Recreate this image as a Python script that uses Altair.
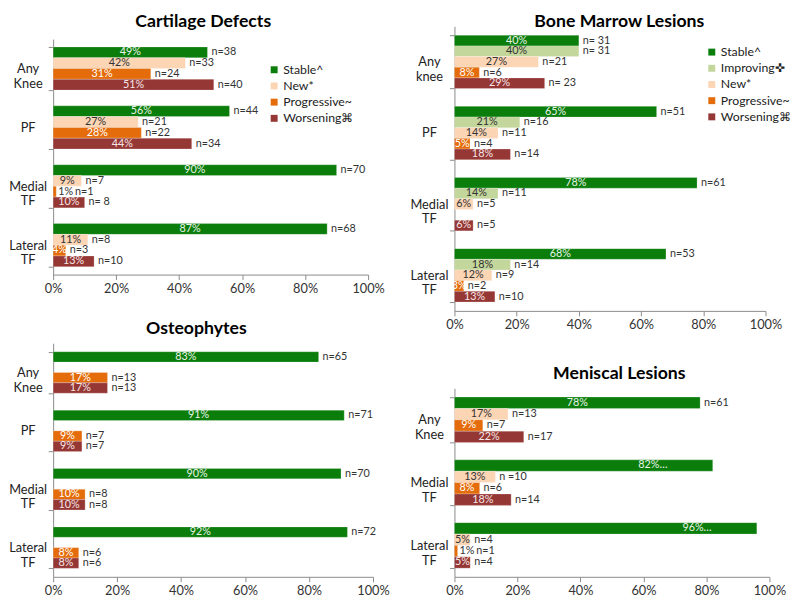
import altair as alt
import pandas as pd

# ---------------- Cartilage Defects ----------------
cd_categories = ["Any Knee", "PF", "Medial TF", "Lateral TF"]
cd_series = ["Stable^", "New*", "Progressive~", "Worsening⌘"]
cd_stable = [49, 56, 90, 87]
cd_new = [42, 27, 9, 11]
cd_progressive = [31, 28, 1, 4]
cd_worsening = [51, 44, 10, 13]
cd_stable_n = ["n=38", "n=44", "n=70", "n=68"]
cd_new_n = ["n=33", "n=21", "n=7", "n=8"]
cd_progressive_n = ["n=24", "n=22", "n=1", "n=3"]
cd_worsening_n = ["n=40", "n=34", "n= 8", "n=10"]

# ---------------- Bone Marrow Lesions ----------------
bml_categories = ["Any knee", "PF", "Medial TF", "Lateral TF"]
bml_series = ["Stable^", "Improving✜", "New*", "Progressive~", "Worsening⌘"]
bml_stable = [40, 65, 78, 68]
bml_improving = [40, 21, 14, 18]
bml_new = [27, 14, 6, 12]
bml_progressive = [8, 5, None, 3]
bml_worsening = [29, 18, 6, 13]
bml_stable_n = ["n= 31", "n=51", "n=61", "n=53"]
bml_improving_n = ["n= 31", "n=16", "n=11", "n=14"]
bml_new_n = ["n=21", "n=11", "n=5", "n=9"]
bml_progressive_n = ["n=6", "n=4", None, "n=2"]
bml_worsening_n = ["n= 23", "n=14", "n=5", "n=10"]

# ---------------- Osteophytes ----------------
os_categories = ["Any Knee", "PF", "Medial TF", "Lateral TF"]
os_series = ["Stable^", "New*", "Progressive~", "Worsening⌘"]
os_stable = [83, 91, 90, 92]
os_new = [None, None, None, None]
os_progressive = [17, 9, 10, 8]
os_worsening = [17, 9, 10, 8]
os_stable_n = ["n=65", "n=71", "n=70", "n=72"]
os_new_n = [None, None, None, None]
os_progressive_n = ["n=13", "n=7", "n=8", "n=6"]
os_worsening_n = ["n=13", "n=7", "n=8", "n=6"]

# ---------------- Meniscal Lesions ----------------
ml_categories = ["Any Knee", "Medial TF", "Lateral TF"]
ml_series = ["Stable^", "New*", "Progressive~", "Worsening⌘"]
ml_stable = [78, 82, 96]
ml_new = [17, 13, 5]
ml_progressive = [9, 8, 1]
ml_worsening = [22, 18, 5]
ml_stable_n = ["n=61", None, None]
ml_new_n = ["n=13", "n =10", "n=4"]
ml_progressive_n = ["n=7", "n=6", "n=1"]
ml_worsening_n = ["n=17", "n=14", "n=4"]

BAR_COLORS = {
    "Stable^": "#0b7d0b",
    "Improving✜": "#c3d69b",
    "New*": "#fcd5b5",
    "Progressive~": "#e46c0a",
    "Worsening⌘": "#953735",
}
TEXT_COLORS = {
    "Stable^": "#e8f4e8",
    "Improving✜": "#333333",
    "New*": "#333333",
    "Progressive~": "#ffffff",
    "Worsening⌘": "#f6e6e6",
}
FONT = "Lato"
AXIS_GRAY = "#8a8a8a"


def build_df(categories, series, values, ns):
    rows = []
    for s, vals, nl in zip(series, values, ns):
        for c, v, n in zip(categories, vals, nl):
            if v is None:
                continue
            rows.append({
                "category": c,
                "series": s,
                "value": v,
                "pct": f"{v}%" + ("…" if n is None else ""),
                "n": n if n is not None else "",
                "trunc": n is None,
                "tc": TEXT_COLORS[s],
                "small": v < 3,
            })
    return pd.DataFrame(rows)


def panel(title, categories, series, values, ns, width, height, yrange, pad,
          title_x, title_y, legend=None):
    df = build_df(categories, series, values, ns)
    y = alt.Y(
        "category:N", sort=categories,
        scale=alt.Scale(domain=categories, range=yrange,
                        paddingInner=pad, paddingOuter=pad / 2),
        axis=alt.Axis(
            title=None, labelExpr="split(datum.label, ' ')", labelAlign="center",
            labelBaseline="middle", labelPadding=21, labelFontSize=13,
            labelFont=FONT, labelColor="#222222", labelLineHeight=15,
            tickBand="extent", tickSize=5, tickColor=AXIS_GRAY,
            domainColor=AXIS_GRAY,
        ),
    )
    yo = alt.YOffset("series:N", sort=series,
                     scale=alt.Scale(domain=series, paddingInner=0, paddingOuter=0))
    xaxis = alt.Axis(
        title=None, values=[0, 20, 40, 60, 80, 100],
        labelExpr="datum.value + '%'", grid=False, tickSize=5, labelFlush=False,
        tickColor=AXIS_GRAY, domainColor=AXIS_GRAY, labelFontSize=13,
        labelFont=FONT, labelColor="#333333", labelPadding=3,
    )
    xscale = alt.Scale(domain=[0, 100], nice=False)

    if legend is not None:
        leg = alt.Legend(
            title=None, orient="none", legendX=legend[0], legendY=legend[1],
            symbolType="square", symbolSize=50, symbolStrokeWidth=0,
            labelFontSize=12.5, labelFont=FONT, labelColor="#222222",
            rowPadding=3.5, labelLimit=200, labelOffset=3,
        )
    else:
        leg = None
    color = alt.Color(
        "series:N",
        scale=alt.Scale(domain=series, range=[BAR_COLORS[s] for s in series]),
        legend=leg,
    )

    base = alt.Chart(df)
    xv = alt.X("value:Q", scale=xscale, axis=xaxis)
    bars = base.mark_bar(stroke="#ffffff", strokeWidth=0.4, strokeOpacity=0.6).encode(
        x=xv, y=y, yOffset=yo, color=color
    )
    pct_in = base.transform_filter("!datum.small && !datum.trunc").transform_calculate(
        mid="datum.value / 2"
    ).mark_text(align="center", baseline="middle", fontSize=11, font=FONT).encode(
        x=alt.X("mid:Q", scale=xscale, axis=xaxis), y=y, yOffset=yo,
        text="pct:N", fill=alt.Fill("tc:N", scale=None, legend=None),
    )
    pct_trunc = base.transform_filter("datum.trunc").mark_text(
        align="right", baseline="middle", fontSize=11, font=FONT, dx=-46,
        fill=TEXT_COLORS["Stable^"],
    ).encode(x=xv, y=y, yOffset=yo, text="pct:N")
    pct_out = base.transform_filter("datum.small").mark_text(
        align="left", baseline="middle", fontSize=11, font=FONT, dx=2, fill="#333333"
    ).encode(x=xv, y=y, yOffset=yo, text="pct:N")
    n_main = base.transform_filter("!datum.small").mark_text(
        align="left", baseline="middle", fontSize=11, font=FONT, dx=4, fill="#333333"
    ).encode(x=xv, y=y, yOffset=yo, text="n:N")
    n_small = base.transform_filter("datum.small").mark_text(
        align="left", baseline="middle", fontSize=11, font=FONT, dx=19, fill="#333333"
    ).encode(x=xv, y=y, yOffset=yo, text="n:N")

    ttl = alt.Chart(pd.DataFrame({"title": [title]})).mark_text(
        align="center", baseline="middle", fontSize=18, font=FONT,
        fontWeight="bold", fill="#000000",
    ).encode(text="title:N", x=alt.value(title_x), y=alt.value(title_y))

    return alt.layer(bars, pct_in, pct_trunc, pct_out, n_main, n_small, ttl).properties(
        width=width, height=height,
    )


cd = panel("Cartilage Defects", cd_categories, cd_series,
           [cd_stable, cd_new, cd_progressive, cd_worsening],
           [cd_stable_n, cd_new_n, cd_progressive_n, cd_worsening_n],
           321, 259, [19, 259], 0.267, 153, 2, legend=(219, 44))
bml = panel("Bone Marrow Lesions", bml_categories, bml_series,
            [bml_stable, bml_improving, bml_new, bml_progressive, bml_worsening],
            [bml_stable_n, bml_improving_n, bml_new_n, bml_progressive_n, bml_worsening_n],
            317, 296, [6, 296], 0.25, 168, 2, legend=(256, 26))
osteo = panel("Osteophytes", os_categories, os_series,
              [os_stable, os_new, os_progressive, os_worsening],
              [os_stable_n, os_new_n, os_progressive_n, os_worsening_n],
              326, 266, [28, 266], 0.29, 146, 14)
ml = panel("Meniscal Lesions", ml_categories, ml_series,
           [ml_stable, ml_new, ml_progressive, ml_worsening],
           [ml_stable_n, ml_new_n, ml_progressive_n, ml_worsening_n],
           321, 217, [25, 217], 0.275, 168, 10)

res = dict(color="independent", x="independent", y="independent",
           yOffset="independent", fill="independent")

left = alt.vconcat(cd, osteo, spacing=15).resolve_scale(**res).resolve_legend(color="independent")
right = alt.vconcat(bml, ml, spacing=27).resolve_scale(**res).resolve_legend(color="independent")

chart = alt.hconcat(left, right, spacing=20).resolve_scale(**res).resolve_legend(
    color="independent"
).configure_view(stroke=None).properties(padding=0)

chart.save("out.html", embed_options={"renderer": "svg", "actions": False})
